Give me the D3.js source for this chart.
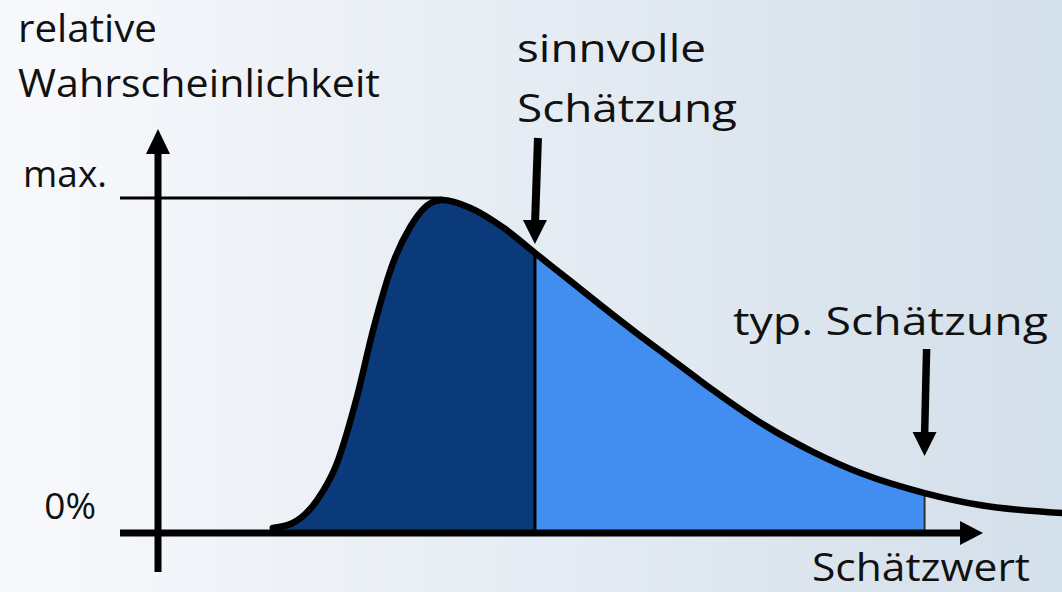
<!DOCTYPE html>
<html>
<head>
<meta charset="utf-8">
<script src="https://cdn.jsdelivr.net/npm/d3@7"></script>
<style>
  html, body { margin: 0; padding: 0; overflow: hidden; }
  svg text { font-family: "Open Sans", "Noto Sans", sans-serif; fill: #111; }
</style>
</head>
<body>
<div id="container"></div>
<script>
let w = 1062;
let h = 592;

// DATA (Schätzwert in beliebigen Einheiten, relative Wahrscheinlichkeit 0..1)
let estimates = [12.7, 14.9, 17.6, 19.8, 22.0, 23.8, 26.0, 27.9, 30.4, 31.5, 34.5, 38.2, 41.7, 45.6, 49.2, 52.9, 56.6, 59.6, 61.4, 66.9, 72.5, 78.0, 84.8, 90.9, 100];
let probability = [0.015, 0.030, 0.099, 0.210, 0.408, 0.610, 0.811, 0.919, 0.994, 1.0, 0.977, 0.917, 0.841, 0.757, 0.679, 0.601, 0.526, 0.465, 0.429, 0.327, 0.243, 0.177, 0.120, 0.084, 0.060];
let sensibleEstimate = 41.7;
let typicalEstimate = 84.8;
let yTickLabels = ["0%", "max."];
let yTickValues = [0, 1];

let points = estimates.map(function(d, i){
  return {x: d, y: probability[i]};
});

// SVG
let viz = d3.select("#container").append("svg")
    .attr("width", w)
    .attr("height", h);

let defs = viz.append("defs");
let grad = defs.append("linearGradient")
    .attr("id", "bg")
    .attr("x1", "0%").attr("y1", "0%")
    .attr("x2", "100%").attr("y2", "0%");
grad.append("stop").attr("offset", "0%").attr("stop-color", "#f8f9fc");
grad.append("stop").attr("offset", "100%").attr("stop-color", "#d3dfea");

viz.append("rect")
    .attr("width", w)
    .attr("height", h)
    .attr("fill", "url(#bg)");

// SCALES
let xScale = d3.scaleLinear().domain([0, 100]).range([158, 1062]);
let yScale = d3.scaleLinear().domain([0, 1]).range([533, 200]);

let x0 = xScale(0);
let y0 = yScale(0);

let areaMaker = d3.area()
    .x(function(d){ return xScale(d.x); })
    .y0(y0)
    .y1(function(d){ return yScale(d.y); })
    .curve(d3.curveMonotoneX);

let lineMaker = d3.line()
    .x(function(d){ return xScale(d.x); })
    .y(function(d){ return yScale(d.y); })
    .curve(d3.curveMonotoneX);

// clip regions for the two fills
defs.append("clipPath").attr("id", "clipDark")
  .append("rect")
    .attr("x", 0).attr("y", 0)
    .attr("width", xScale(sensibleEstimate))
    .attr("height", h);

defs.append("clipPath").attr("id", "clipLight")
  .append("rect")
    .attr("x", xScale(sensibleEstimate)).attr("y", 0)
    .attr("width", xScale(typicalEstimate) - xScale(sensibleEstimate))
    .attr("height", h);

viz.append("path")
    .datum(points)
    .attr("d", areaMaker)
    .attr("fill", "#0a3a79")
    .attr("clip-path", "url(#clipDark)");

viz.append("path")
    .datum(points)
    .attr("d", areaMaker)
    .attr("fill", "#418ef0")
    .attr("clip-path", "url(#clipLight)");

// separator lines
viz.append("line")
    .attr("x1", xScale(sensibleEstimate)).attr("x2", xScale(sensibleEstimate))
    .attr("y1", y0).attr("y2", yScale(probability[estimates.indexOf(sensibleEstimate)]))
    .attr("stroke", "#000").attr("stroke-width", 3);

viz.append("line")
    .attr("x1", xScale(typicalEstimate)).attr("x2", xScale(typicalEstimate))
    .attr("y1", y0).attr("y2", yScale(probability[estimates.indexOf(typicalEstimate)]))
    .attr("stroke", "#333").attr("stroke-width", 2);

// max line
viz.append("line")
    .attr("x1", 120).attr("x2", xScale(31.5))
    .attr("y1", yScale(1) - 2).attr("y2", yScale(1) - 2)
    .attr("stroke", "#000").attr("stroke-width", 3);

// curve
viz.append("path")
    .datum(points)
    .attr("d", lineMaker)
    .attr("fill", "none")
    .attr("stroke", "#000")
    .attr("stroke-width", 6.5)
    .attr("stroke-linecap", "round");

// AXES
function arrowHead(tipX, tipY, dir){
  // dir: "up", "right", "down"
  let p = d3.path();
  if(dir == "up"){
    p.moveTo(tipX, tipY); p.lineTo(tipX + 12, tipY + 25); p.lineTo(tipX - 12, tipY + 25);
  }else if(dir == "right"){
    p.moveTo(tipX, tipY); p.lineTo(tipX - 23, tipY - 12); p.lineTo(tipX - 23, tipY + 12);
  }else{
    p.moveTo(tipX, tipY); p.lineTo(tipX - 12, tipY - 24); p.lineTo(tipX + 12, tipY - 24);
  }
  p.closePath();
  viz.append("path").attr("d", p.toString()).attr("fill", "#000");
}

// y axis
viz.append("line")
    .attr("x1", x0).attr("x2", x0)
    .attr("y1", 572).attr("y2", 150)
    .attr("stroke", "#000").attr("stroke-width", 7);
arrowHead(x0, 129, "up");

// x axis
viz.append("line")
    .attr("x1", 120).attr("x2", 962)
    .attr("y1", y0).attr("y2", y0)
    .attr("stroke", "#000").attr("stroke-width", 7);
arrowHead(983, y0, "right");

// estimate arrows
viz.append("line")
    .attr("x1", xScale(sensibleEstimate) + 3).attr("x2", xScale(sensibleEstimate))
    .attr("y1", 138).attr("y2", 225)
    .attr("stroke", "#000").attr("stroke-width", 8);
arrowHead(xScale(sensibleEstimate), 244, "down");

viz.append("line")
    .attr("x1", xScale(typicalEstimate) + 2).attr("x2", xScale(typicalEstimate))
    .attr("y1", 349).attr("y2", 435)
    .attr("stroke", "#000").attr("stroke-width", 7.5);
arrowHead(xScale(typicalEstimate), 456, "down");

// TEXT
viz.selectAll(".ytick").data(yTickValues).enter()
  .append("text")
    .attr("class", "ytick")
    .attr("x", function(d){ return d == 0 ? 96 : 107; })
    .attr("y", function(d){ return yScale(d) - (d == 0 ? 14 : 13); })
    .attr("text-anchor", "end")
    .style("font-size", "37px")
    .text(function(d, i){ return yTickLabels[i]; });

function label(txt, x, y, len){
  viz.append("text")
    .attr("x", x).attr("y", y)
    .attr("textLength", len)
    .attr("lengthAdjust", "spacingAndGlyphs")
    .style("font-size", "39px")
    .text(txt);
}

label("relative", 18, 42, 139);
label("Wahrscheinlichkeit", 18, 97, 362);
label("sinnvolle", 517, 62, 189);
label("Schätzung", 517, 122, 220);
label("typ. Schätzung", 733, 335, 315);
label("Schätzwert", 812, 581, 218);
</script>
</body>
</html>
